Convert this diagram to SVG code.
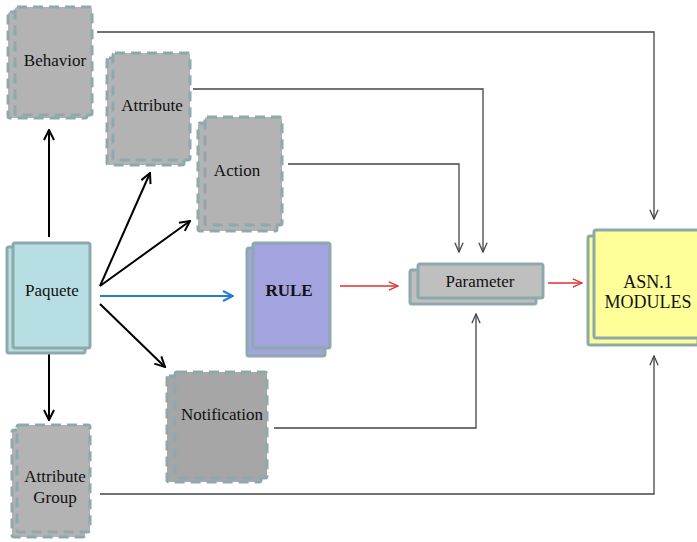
<svg xmlns="http://www.w3.org/2000/svg" width="697" height="542" viewBox="0 0 697 542">
<defs>
<marker id="ah" viewBox="0 0 12 12" refX="11" refY="6" markerWidth="12" markerHeight="12" markerUnits="userSpaceOnUse" orient="auto">
<path d="M1,1 L11,6 L1,11" fill="none" stroke="#000" stroke-width="2"/>
</marker>
<marker id="ahb" viewBox="0 0 12 12" refX="11" refY="6" markerWidth="12" markerHeight="12" markerUnits="userSpaceOnUse" orient="auto">
<path d="M1,1 L11,6 L1,11" fill="none" stroke="#1F7FCC" stroke-width="2"/>
</marker>
<marker id="ahg" viewBox="0 0 12 12" refX="11" refY="6" markerWidth="11" markerHeight="11" markerUnits="userSpaceOnUse" orient="auto">
<path d="M1,1.5 L11,6 L1,10.5" fill="none" stroke="#444" stroke-width="1.4"/>
</marker>
<marker id="ahr" viewBox="0 0 12 12" refX="11" refY="6" markerWidth="11" markerHeight="11" markerUnits="userSpaceOnUse" orient="auto">
<path d="M1,1.5 L11,6 L1,10.5" fill="none" stroke="#E03030" stroke-width="1.4"/>
</marker>
</defs>
<style>
.d{fill:#B3B3B3;stroke:#8EA9AC;stroke-width:3;stroke-dasharray:10 6}
.dn{fill:#A6A6A6;stroke:#8EA9AC;stroke-width:3;stroke-dasharray:10 6}
.s{stroke:#8EA9AC;stroke-width:3}
text{font-family:'Liberation Serif','DejaVu Serif',serif;font-size:17px;fill:#111;text-anchor:middle}
.k{fill:none;stroke:#000;stroke-width:2}
.g{fill:none;stroke:#444;stroke-width:1.3}
</style>
<rect width="697" height="542" fill="#fff"/>
<g id="connectors">
<polyline class="g" points="97,32 654,32 654,219" marker-end="url(#ahg)"/>
<polyline class="g" points="193,89 483,89 483,252" marker-end="url(#ahg)"/>
<polyline class="g" points="288,164 459,164 459,252" marker-end="url(#ahg)"/>
<polyline class="g" points="274,428 476,428 476,314" marker-end="url(#ahg)"/>
<polyline class="g" points="100,494 654,494 654,356" marker-end="url(#ahg)"/>
<line class="k" x1="49" y1="237" x2="49" y2="130" marker-end="url(#ah)"/>
<line class="k" x1="49" y1="353" x2="49" y2="420" marker-end="url(#ah)"/>
<line class="k" x1="100" y1="286" x2="150" y2="173" marker-end="url(#ah)"/>
<line class="k" x1="100" y1="286" x2="190" y2="221" marker-end="url(#ah)"/>
<line class="k" x1="100" y1="304" x2="165" y2="367" marker-end="url(#ah)"/>
<line x1="100" y1="296" x2="233" y2="296" stroke="#1F7FCC" stroke-width="2" marker-end="url(#ahb)"/>
<line x1="340" y1="286" x2="398" y2="286" stroke="#E03030" stroke-width="1.3" marker-end="url(#ahr)"/>
<line x1="548" y1="283" x2="582" y2="283" stroke="#E03030" stroke-width="1.3" marker-end="url(#ahr)"/>
</g>
<g id="behavior">
<rect class="d" x="8" y="12" width="79" height="106" rx="2"/>
<rect class="d" x="15" y="7" width="77" height="108" rx="2"/>
<text x="55" y="66">Behavior</text>
</g>
<g id="attribute">
<rect class="d" x="107" y="58" width="77" height="107" rx="2"/>
<rect class="d" x="113" y="53" width="77" height="107" rx="2"/>
<text x="152" y="111">Attribute</text>
</g>
<g id="action">
<rect class="d" x="198" y="123" width="79" height="108" rx="2"/>
<rect class="d" x="205" y="117" width="77" height="108" rx="2"/>
<text x="237" y="176">Action</text>
</g>
<g id="paquete">
<rect class="s" x="7" y="247" width="78" height="106" rx="2" fill="#B7DEE3"/>
<rect class="s" x="13" y="243" width="77" height="105" rx="2" fill="#B7DEE3"/>
<text x="52" y="296">Paquete</text>
</g>
<g id="rule">
<rect class="s" x="247" y="248" width="78" height="108" rx="2" fill="#A3A3DF"/>
<rect class="s" x="253" y="243" width="77" height="105" rx="2" fill="#A3A3DF"/>
<text x="289" y="296" font-weight="bold">RULE</text>
</g>
<g id="parameter">
<rect class="s" x="410" y="270" width="126" height="34" rx="2" fill="#BFBFBF"/>
<rect class="s" x="418" y="264" width="125" height="34" rx="2" fill="#BFBFBF"/>
<text x="480" y="287">Parameter</text>
</g>
<g id="asn1">
<rect class="s" x="588" y="236" width="110" height="109" rx="2" fill="#FFFF99"/>
<rect class="s" x="594" y="230" width="106" height="108" rx="2" fill="#FFFF99"/>
<text x="648" y="288" style="font-size:18px">ASN.1</text>
<text x="648" y="308" style="font-size:18px">MODULES</text>
</g>
<g id="notification">
<rect class="dn" x="167" y="376" width="94" height="106" rx="2"/>
<rect class="dn" x="175" y="372" width="92" height="106" rx="2"/>
<text x="222" y="420">Notification</text>
</g>
<g id="attribute-group">
<rect class="d" x="12" y="430" width="73" height="107" rx="2"/>
<rect class="d" x="17" y="425" width="73" height="107" rx="2"/>
<text x="55" y="482">Attribute</text>
<text x="55" y="503">Group</text>
</g>
</svg>
